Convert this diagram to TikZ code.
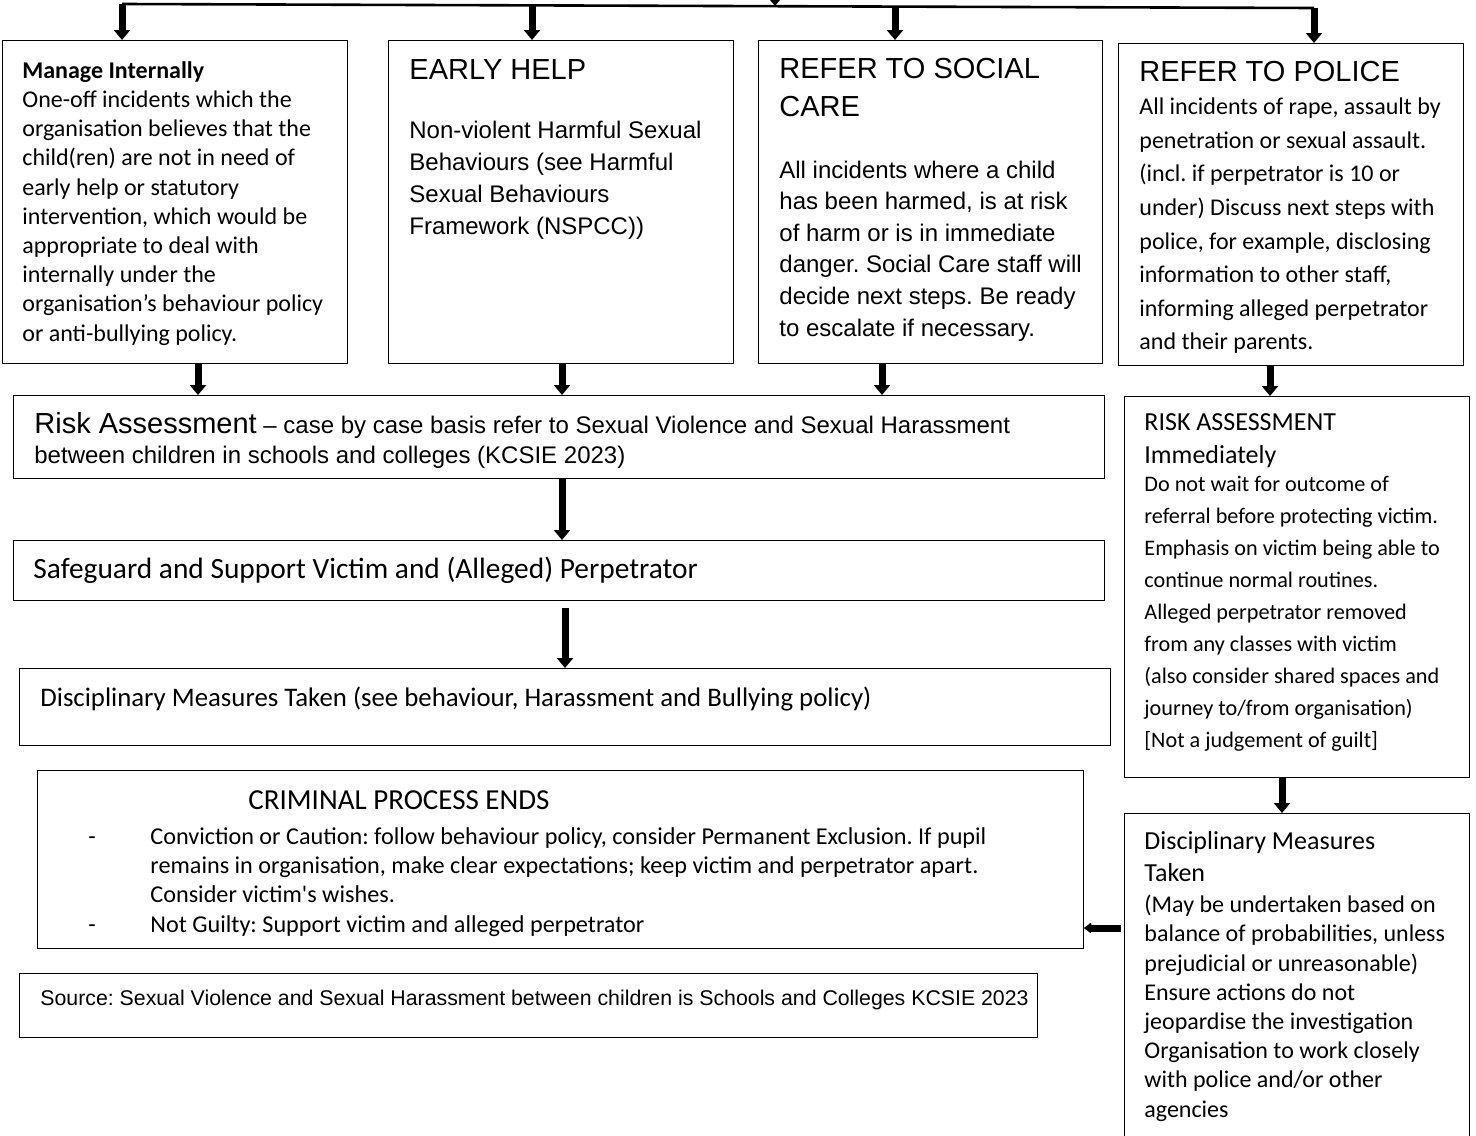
\documentclass[tikz,border=0pt]{standalone}
\usepackage{fontspec}
\setmainfont{Carlito}
\newfontfamily\arialfont{Liberation Sans}
\usetikzlibrary{arrows.meta}
\frenchspacing

\newcommand{\headfont}{\arialfont\fontsize{14.5}{17}\selectfont}
\newcommand{\sechead}{\fontsize{13}{16}\selectfont}

\begin{document}
\begin{tikzpicture}[x=0.5pt,y=-0.5pt,->,>={Triangle[width=8pt,length=5pt]},
                    box/.style={draw,-,line width=0.6pt,anchor=north west,inner sep=0pt},
                    txt/.style={anchor=north west,inner sep=0pt,align=left},
                    arr/.style={->,line width=3.5pt},
                    bus/.style={-,line width=1.3pt}]

  \useasboundingbox (0,0) rectangle (1476,1135);
  \clip (0,0) rectangle (1476,1135);

  % boxes
  \node[box,minimum width=172.5pt,minimum height=161.5pt] (MI)  at (2,40)     {};
  \node[box,minimum width=172.5pt,minimum height=161.5pt] (EH)  at (388,40)   {};
  \node[box,minimum width=172pt,minimum height=161.5pt]   (SC)  at (758,40)   {};
  \node[box,minimum width=172.5pt,minimum height=161pt]   (PO)  at (1118,43)  {};
  \node[box,minimum width=545.5pt,minimum height=41.5pt]  (RA)  at (13,395)   {};
  \node[box,minimum width=545.5pt,minimum height=30pt]    (SG)  at (13,540)   {};
  \node[box,minimum width=545.5pt,minimum height=38.5pt]  (DM)  at (19,668)   {};
  \node[box,minimum width=523pt,minimum height=89pt]      (CR)  at (37,770)   {};
  \node[box,minimum width=509pt,minimum height=32pt]      (SRC) at (19,973)   {};
  \node[box,minimum width=172.5pt,minimum height=190.5pt] (RA2) at (1124,396) {};
  \node[box,minimum width=172.5pt,minimum height=170pt]   (DM2) at (1124,813) {};

  % texts
  \node[txt,font={\fontsize{12}{14.6}\selectfont}] (MI-t) at (22,61)
    {\textbf{Manage Internally}\\ One-off incidents which the\\ organisation believes that the\\
     child(ren) are not in need of\\ early help or statutory\\ intervention, which would be\\
     appropriate to deal with\\ internally under the\\ organisation’s behaviour policy\\
     or anti-bullying policy.};
  \node[txt,font={\arialfont\fontsize{12}{15.85}\selectfont}] (EH-t) at (409,59.5)
    {{\headfont EARLY HELP}\\[13.7pt] Non-violent Harmful Sexual\\ Behaviours (see Harmful\\
     Sexual Behaviours\\ Framework (NSPCC))};
  \node[txt,font={\arialfont\fontsize{12}{15.8}\selectfont}] (SC-t) at (779,57.5)
    {{\headfont REFER TO SOCIAL}\\[3.2pt] {\headfont CARE}\\[15.2pt] All incidents where a child\\
     has been harmed, is at risk\\ of harm or is in immediate\\ danger. Social Care staff will\\
     decide next steps. Be ready\\ to escalate if necessary.};
  \node[txt,font={\fontsize{12}{16.8}\selectfont}] (PO-t) at (1139,60.5)
    {{\headfont REFER TO POLICE}\\ All incidents of rape, assault by\\ penetration or sexual assault.\\
     (incl. if perpetrator is 10 or\\ under) Discuss next steps with\\ police, for example, disclosing\\
     information to other staff,\\ informing alleged perpetrator\\ and their parents.};
  \node[txt,font={\arialfont\fontsize{12}{14.75}\selectfont}] (RA-t) at (34,412.5)
    {{\headfont Risk Assessment} – case by case basis refer to Sexual Violence and Sexual Harassment\\
     between children in schools and colleges (KCSIE 2023)};
  \node[txt,font={\fontsize{14.7}{17}\selectfont}] (SG-t) at (33,556.5)
    {Safeguard and Support Victim and (Alleged) Perpetrator};
  \node[txt,font={\fontsize{13.4}{16}\selectfont}] (DM-t) at (40,686)
    {Disciplinary Measures Taken (see behaviour, Harassment and Bullying policy)};
  \node[txt,font={\fontsize{12.1}{14.65}\selectfont}] (CR-t) at (88,790)
    {\hspace*{80pt}{\fontsize{14.5}{17}\selectfont CRIMINAL PROCESS ENDS}\\[2.85pt]
     \makebox[31pt][l]{-}Conviction or Caution: follow behaviour policy, consider Permanent Exclusion. If pupil\\
     \hspace*{31pt}remains in organisation, make clear expectations; keep victim and perpetrator apart.\\
     \hspace*{31pt}Consider victim\textquotesingle s wishes.\\
     \makebox[31pt][l]{-}Not Guilty: Support victim and alleged perpetrator};
  \node[txt,font={\arialfont\fontsize{10.65}{13}\selectfont}] (SRC-t) at (40,989.5)
    {Source: Sexual Violence and Sexual Harassment between children is Schools and Colleges KCSIE 2023};
  \node[txt,font={\fontsize{11.1}{16}\selectfont}] (RA2-t) at (1144,413)
    {{\sechead RISK ASSESSMENT}\\[0.5pt] {\sechead Immediately}\\[-1.7pt] Do not wait for outcome of\\
     referral before protecting victim.\\ Emphasis on victim being able to\\ continue normal routines.\\
     Alleged perpetrator removed\\ from any classes with victim\\ (also consider shared spaces and\\
     journey to/from organisation)\\ {[}Not a judgement of guilt{]}};
  \node[txt,font={\fontsize{12}{14.6}\selectfont}] (DM2-t) at (1144,831)
    {{\sechead Disciplinary Measures}\\[1.4pt] {\sechead Taken}\\[1pt] (May be undertaken based on\\
     balance of probabilities, unless\\ prejudicial or unreasonable)\\ Ensure actions do not\\
     jeopardise the investigation\\ Organisation to work closely\\ with police and/or other\\ agencies};

  % arrow columns
  \coordinate (B1) at (122,4);
  \coordinate (B2) at (532,5.4);
  \coordinate (B3) at (895,6.6);
  \coordinate (B4) at (1314,8);
  \coordinate (IN) at (775,-30);
  \coordinate (BI) at (775,6);
  \coordinate (C1) at (198,0);
  \coordinate (C2) at (562,0);
  \coordinate (C3) at (882,0);
  \coordinate (C4) at (1270,0);
  \coordinate (C5) at (565,0);
  \coordinate (C6) at (1282,0);
  \coordinate (C7) at (0,928);

  % connectors
  \draw[bus] (B1) -- (B4);
  \draw[arr] (IN) -- (BI);
  \draw[arr] (B1) -- (MI.north -| B1);
  \draw[arr] (B2) -- (EH.north -| B2);
  \draw[arr] (B3) -- (SC.north -| B3);
  \draw[arr] (B4) -- (PO.north -| B4);

  \draw[arr] (MI.south -| C1) -- (RA.north -| C1);
  \draw[arr] (EH.south -| C2) -- (RA.north -| C2);
  \draw[arr] (SC.south -| C3) -- (RA.north -| C3);
  \draw[arr] (PO.south -| C4) -- (RA2.north -| C4);
  \draw[arr] (RA.south -| C2) -- (SG.north -| C2);
  \draw[arr,shorten <=3.5pt] (SG.south -| C5) -- (DM.north -| C5);
  \draw[arr] (RA2.south -| C6) -- (DM2.north -| C6);
  \draw[arr,>={Latex[round,width=6.5pt,length=4pt]},shorten <=1.5pt] (DM2.west |- C7) -- (CR.east |- C7);
\end{tikzpicture}
\end{document}
